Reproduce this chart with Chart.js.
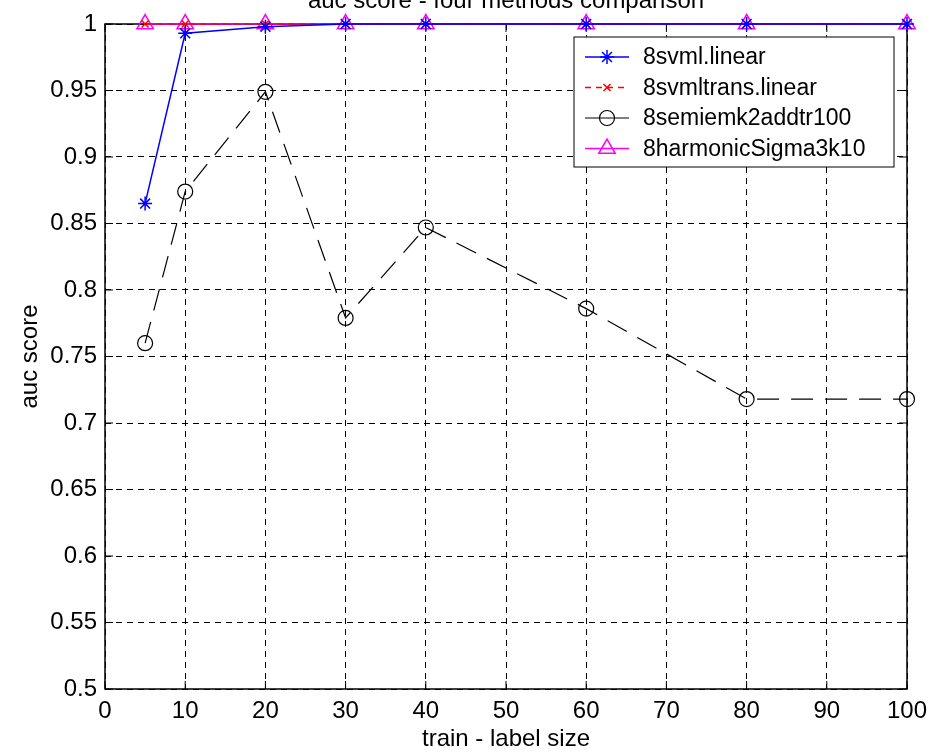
<!DOCTYPE html>
<html>
<head>
<meta charset="utf-8">
<title>auc score - four methods comparison</title>
<script src="https://cdn.jsdelivr.net/npm/chart.js@4.4.1/dist/chart.umd.min.js"></script>
<style>
  body { margin: 0; background: #fff; }
  #wrap { width: 940px; height: 754px; }
</style>
</head>
<body>
<div id="wrap"><canvas id="grafico" width="940" height="754"></canvas></div>
<script>
// datos
const trainSize = [5, 10, 20, 30, 40, 60, 80, 100];
const svmlLinear = [0.865, 0.993, 0.998, 1, 1, 1, 1, 1];
const svmltransLinear = [1, 1, 1, 1, 1, 1, 1, 1];
const semiemk2 = [0.760, 0.874, 0.949, 0.779, 0.847, 0.786, 0.718, 0.718];
const harmonicSigma = [1, 1, 1, 1, 1, 1, 1, 1];

const xTicks = [0, 10, 20, 30, 40, 50, 60, 70, 80, 90, 100];
const xTickLabels = ['0', '10', '20', '30', '40', '50', '60', '70', '80', '90', '100'];
const yTicks = [0.5, 0.55, 0.6, 0.65, 0.7, 0.75, 0.8, 0.85, 0.9, 0.95, 1];
const yTickLabels = ['0.5', '0.55', '0.6', '0.65', '0.7', '0.75', '0.8', '0.85', '0.9', '0.95', '1'];

const FUENTE = 'Liberation Sans, Arial, sans-serif';

function puntos(ys) {
  return trainSize.map((x, i) => ({ x: x, y: ys[i] }));
}

// caja de ejes, ticks hacia dentro, titulo y leyenda (estilo matlab)
const estiloMatlab = {
  id: 'estiloMatlab',
  beforeDatasetsDraw(chart) {
    const { ctx, chartArea: a, scales } = chart;
    ctx.save();
    ctx.strokeStyle = '#000';
    ctx.lineWidth = 1.5;
    ctx.strokeRect(a.left, a.top, a.right - a.left, a.bottom - a.top);
    ctx.lineWidth = 1;
    ctx.beginPath();
    xTicks.forEach(v => {
      const px = scales.x.getPixelForValue(v);
      ctx.moveTo(px, a.bottom); ctx.lineTo(px, a.bottom - 8);
      ctx.moveTo(px, a.top); ctx.lineTo(px, a.top + 8);
    });
    yTicks.forEach(v => {
      const py = scales.y.getPixelForValue(v);
      ctx.moveTo(a.left, py); ctx.lineTo(a.left + 8, py);
      ctx.moveTo(a.right, py); ctx.lineTo(a.right - 8, py);
    });
    ctx.stroke();
    ctx.restore();
  },
  afterDraw(chart) {
    const { ctx, chartArea: a } = chart;
    ctx.save();
    // titulo (cortado arriba como en la imagen)
    ctx.fillStyle = '#000';
    ctx.font = '24px ' + FUENTE;
    ctx.textAlign = 'center';
    ctx.textBaseline = 'alphabetic';
    ctx.fillText('auc score - four methods comparison', (a.left + a.right) / 2, 8);

    // leyenda
    const w = 320, h = 130;
    const bx = a.right - 13 - w, by = a.top + 13;
    ctx.fillStyle = '#fff';
    ctx.fillRect(bx, by, w, h);
    ctx.strokeStyle = '#000';
    ctx.lineWidth = 1;
    ctx.strokeRect(bx, by, w, h);
    chart.data.datasets.forEach((ds, i) => {
      const cy = by + 20 + i * 30.5;
      ctx.save();
      ctx.strokeStyle = ds.borderColor;
      ctx.fillStyle = 'rgba(0,0,0,0)';
      ctx.lineWidth = ds.borderWidth;
      // solo la linea roja se ve discontinua en la muestra de la leyenda
      ctx.setLineDash(ds.borderDash && ds.borderDash[0] < 10 ? ds.borderDash : []);
      ctx.beginPath();
      ctx.moveTo(bx + 11, cy);
      ctx.lineTo(bx + 55, cy);
      ctx.stroke();
      ctx.setLineDash([]);
      ctx.lineWidth = ds.pointBorderWidth;
      Chart.helpers.drawPoint(ctx, {
        pointStyle: ds.pointStyle,
        radius: ds.pointRadius,
        borderWidth: ds.pointBorderWidth,
        rotation: 0
      }, bx + 33, cy);
      ctx.restore();
      ctx.fillStyle = '#000';
      ctx.font = '23px ' + FUENTE;
      ctx.textAlign = 'left';
      ctx.textBaseline = 'middle';
      ctx.fillText(ds.label, bx + 69, cy + 1);
    });
    ctx.restore();
  }
};

const ctx = document.getElementById('grafico').getContext('2d');
window.myChart = new Chart(ctx, {
  type: 'line',
  data: {
    datasets: [
      {
        label: '8svml.linear',
        data: puntos(svmlLinear),
        borderColor: '#0000ff',
        backgroundColor: 'rgba(0,0,0,0)',
        borderWidth: 1.5,
        borderDash: [],
        pointStyle: 'star',
        pointRadius: 7,
        pointBorderWidth: 1.5,
        clip: false
      },
      {
        label: '8svmltrans.linear',
        data: puntos(svmltransLinear),
        borderColor: '#ff0000',
        backgroundColor: 'rgba(0,0,0,0)',
        borderWidth: 1.5,
        borderDash: [6, 5],
        pointStyle: 'crossRot',
        pointRadius: 5,
        pointBorderWidth: 1.5,
        clip: false
      },
      {
        label: '8semiemk2addtr100',
        data: puntos(semiemk2),
        borderColor: '#000000',
        backgroundColor: 'rgba(0,0,0,0)',
        borderWidth: 1.2,
        borderDash: [22, 12],
        pointStyle: 'circle',
        pointRadius: 7.5,
        pointBorderWidth: 1.2,
        clip: false
      },
      {
        label: '8harmonicSigma3k10',
        data: puntos(harmonicSigma),
        borderColor: '#ff00ff',
        backgroundColor: 'rgba(0,0,0,0)',
        borderWidth: 1.5,
        borderDash: [],
        pointStyle: 'triangle',
        pointRadius: 9.5,
        pointBorderWidth: 1.5,
        clip: false
      }
    ]
  },
  options: {
    responsive: false,
    animation: false,
    devicePixelRatio: 1,
    layout: { padding: { top: 24, right: 33, left: 0, bottom: 0 } },
    elements: { line: { tension: 0, fill: false } },
    plugins: {
      legend: { display: false },
      title: { display: false },
      tooltip: { enabled: false }
    },
    scales: {
      x: {
        type: 'linear',
        min: 0,
        max: 100,
        afterBuildTicks: s => { s.ticks = xTicks.map(v => ({ value: v })); },
        afterFit: s => { s.height = 65; },
        ticks: {
          color: '#000',
          font: { family: FUENTE, size: 24 },
          padding: 8,
          maxRotation: 0,
          callback: (v, i) => xTickLabels[i]
        },
        grid: { color: '#000', lineWidth: 1, drawTicks: false },
        border: { display: false, dash: [6, 5] },
        title: {
          display: true,
          text: 'train - label size',
          color: '#000',
          font: { family: FUENTE, size: 24 },
          padding: { top: 0, bottom: 0 }
        }
      },
      y: {
        type: 'linear',
        min: 0.5,
        max: 1,
        afterBuildTicks: s => { s.ticks = yTicks.map(v => ({ value: v })); },
        afterFit: s => { s.width = 105; },
        ticks: {
          color: '#000',
          font: { family: FUENTE, size: 24 },
          padding: 8,
          callback: (v, i) => yTickLabels[i]
        },
        grid: { color: '#000', lineWidth: 1, drawTicks: false },
        border: { display: false, dash: [6, 5] },
        title: {
          display: true,
          text: 'auc score',
          color: '#000',
          font: { family: FUENTE, size: 24 },
          padding: { top: 16, bottom: 0 }
        }
      }
    }
  },
  plugins: [estiloMatlab]
});
</script>
</body>
</html>
